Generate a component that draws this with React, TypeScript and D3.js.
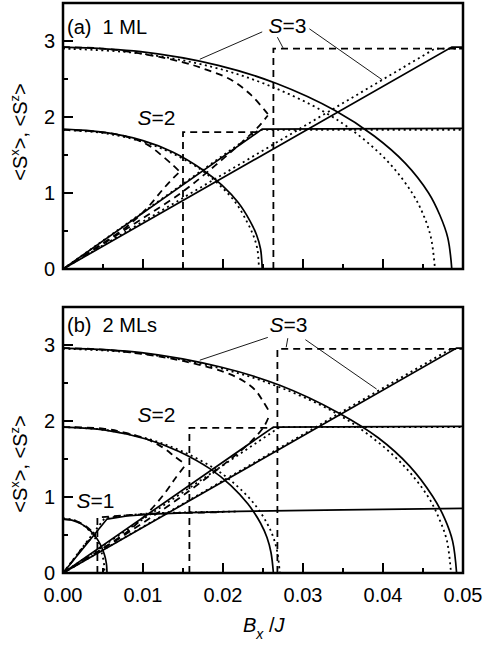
import * as d3 from 'd3';

type Pt = [number, number];

// ── Axes ─────────────────────────────────────────────────────────────
const X_DOMAIN: Pt = [0, 0.05];
const Y_DOMAIN: Pt = [0, 3.5];
const X_MAJOR = [0, 0.01, 0.02, 0.03, 0.04, 0.05];
const X_MINOR = [0.005, 0.015, 0.025, 0.035, 0.045];
const X_LABELS = ['0.00', '0.01', '0.02', '0.03', '0.04', '0.05'];
const Y_MAJOR = [0, 1, 2, 3];
const Y_MINOR = [0.5, 1.5, 2.5];
const Y_LABELS = ['0', '1', '2', '3'];

// ── (a) 1 ML ─────────────────────────────────────────────────────────
const a3SzSolid: Pt[] = [[0, 2.92], [0.0097, 2.86], [0.0194, 2.68], [0.0267, 2.44], [0.034, 2.085], [0.0389, 1.75], [0.0428, 1.39], [0.0457, 1.0], [0.0471, 0.71], [0.0481, 0.41], [0.0486, 0]];
const a3SxSolid: Pt[] = [[0, 0], [0.0486, 2.92], [0.05, 2.92]];
const a3SzDot: Pt[] = [[0, 2.9], [0.0093, 2.84], [0.0186, 2.66], [0.0256, 2.42], [0.0326, 2.07], [0.0372, 1.74], [0.0409, 1.38], [0.0437, 0.99], [0.0451, 0.7], [0.046, 0.41], [0.0465, 0]];
const a3SxDot: Pt[] = [[0, 0], [0.0465, 2.9], [0.05, 2.9]];
const a3SzDash: Pt[] = [[0, 2.92], [0.005, 2.9], [0.01, 2.83], [0.015, 2.72], [0.018, 2.62], [0.021, 2.49], [0.0235, 2.29], [0.0256, 2.04]];
const a3SxDash: Pt[] = [[0, 0], [0.005, 0.33], [0.01, 0.67], [0.015, 1.02], [0.019, 1.36], [0.0225, 1.68], [0.0245, 1.88], [0.0256, 2.02]];
const a3Jump: Pt[] = [[0.0263, 0], [0.0263, 2.9], [0.05, 2.9]];

const a2SzSolid: Pt[] = [[0, 1.84], [0.005, 1.8], [0.01, 1.69], [0.0137, 1.54], [0.0174, 1.31], [0.0199, 1.1], [0.0219, 0.874], [0.0234, 0.627], [0.0242, 0.447], [0.0247, 0.26], [0.0249, 0]];
const a2SxSolid: Pt[] = [[0, 0], [0.0249, 1.84], [0.05, 1.85]];
const a2SzDot: Pt[] = [[0, 1.83], [0.0049, 1.79], [0.0098, 1.68], [0.0135, 1.53], [0.0172, 1.31], [0.0196, 1.1], [0.0216, 0.87], [0.023, 0.62], [0.0238, 0.44], [0.0243, 0.26], [0.0245, 0]];
const a2SxDot: Pt[] = [[0, 0], [0.0245, 1.83], [0.05, 1.83]];
const a2SzDash: Pt[] = [[0, 1.83], [0.004, 1.81], [0.008, 1.74], [0.0105, 1.64], [0.0125, 1.48], [0.0138, 1.36], [0.0146, 1.28]];
const a2SxDash: Pt[] = [[0, 0], [0.004, 0.27], [0.008, 0.56], [0.0105, 0.8], [0.0125, 1.05], [0.0138, 1.2], [0.0146, 1.28]];
const a2Jump: Pt[] = [[0.015, 0], [0.015, 1.8], [0.0245, 1.8]];

// ── (b) 2 MLs ────────────────────────────────────────────────────────
const b3SzSolid: Pt[] = [[0, 2.96], [0.0098, 2.9], [0.0197, 2.71], [0.0271, 2.47], [0.0344, 2.11], [0.0394, 1.78], [0.0433, 1.41], [0.0462, 1.01], [0.0477, 0.72], [0.0487, 0.42], [0.0492, 0]];
const b3SxSolid: Pt[] = [[0, 0], [0.0492, 2.96], [0.05, 2.96]];
const b3SzDot: Pt[] = [[0, 2.95], [0.0097, 2.89], [0.0194, 2.7], [0.0267, 2.46], [0.034, 2.11], [0.0388, 1.77], [0.0427, 1.4], [0.0456, 1.01], [0.047, 0.72], [0.048, 0.42], [0.0485, 0]];
const b3SxDot: Pt[] = [[0, 0], [0.0485, 2.95], [0.05, 2.95]];
const b3SzDash: Pt[] = [[0, 2.96], [0.005, 2.94], [0.01, 2.88], [0.015, 2.79], [0.02, 2.65], [0.0225, 2.53], [0.024, 2.41], [0.025, 2.26], [0.0258, 2.12]];
const b3SxDash: Pt[] = [[0, 0], [0.005, 0.32], [0.01, 0.66], [0.015, 1.02], [0.02, 1.42], [0.0234, 1.72], [0.0252, 1.94], [0.0258, 2.08]];
const b3Jump: Pt[] = [[0.0268, 0], [0.0268, 2.95], [0.05, 2.95]];

const b2SzSolid: Pt[] = [[0, 1.92], [0.0053, 1.88], [0.0105, 1.76], [0.0145, 1.6], [0.0184, 1.37], [0.021, 1.15], [0.0231, 0.91], [0.0247, 0.655], [0.0255, 0.467], [0.026, 0.27], [0.0263, 0]];
const b2SxSolid: Pt[] = [[0, 0], [0.0263, 1.92], [0.05, 1.93]];
const b2SzDot: Pt[] = [[0, 1.92], [0.0054, 1.88], [0.0108, 1.76], [0.0149, 1.6], [0.019, 1.37], [0.0217, 1.15], [0.0239, 0.91], [0.0255, 0.655], [0.0263, 0.467], [0.0268, 0.27], [0.0271, 0]];
const b2SxDot: Pt[] = [[0, 0], [0.0271, 1.92], [0.05, 1.92]];
const b2SzDash: Pt[] = [[0, 1.92], [0.005, 1.9], [0.008, 1.84], [0.0105, 1.76], [0.0125, 1.65], [0.014, 1.53], [0.0153, 1.43]];
const b2SxDash: Pt[] = [[0, 0], [0.004, 0.26], [0.008, 0.54], [0.0105, 0.78], [0.0125, 1.02], [0.014, 1.24], [0.0153, 1.42]];
const b2Jump: Pt[] = [[0.0158, 0], [0.0158, 1.91], [0.0263, 1.91]];

const b1SzSolid: Pt[] = [[0, 0.71], [0.0011, 0.696], [0.0022, 0.651], [0.003, 0.593], [0.00385, 0.507], [0.0044, 0.426], [0.00484, 0.337], [0.00517, 0.242], [0.00534, 0.173], [0.00545, 0.1], [0.0055, 0]];
const b1SxSolid: Pt[] = [[0, 0], [0.0055, 0.71], [0.008, 0.75], [0.011, 0.775], [0.016, 0.795], [0.022, 0.81], [0.035, 0.83], [0.05, 0.85]];
const b1SzDot: Pt[] = [[0, 0.72], [0.00104, 0.706], [0.00208, 0.66], [0.00286, 0.6], [0.00364, 0.514], [0.00416, 0.432], [0.00458, 0.342], [0.00489, 0.246], [0.00504, 0.175], [0.00515, 0.1], [0.0052, 0]];
const b1SxDot: Pt[] = [[0, 0], [0.0052, 0.72], [0.008, 0.76], [0.011, 0.785], [0.016, 0.8], [0.022, 0.81]];
const b1SzDash: Pt[] = [[0, 0.71], [0.0015, 0.69], [0.0028, 0.62], [0.0036, 0.55], [0.0041, 0.5]];
const b1SxDash: Pt[] = [[0, 0], [0.0015, 0.2], [0.0028, 0.38], [0.0036, 0.46], [0.0041, 0.5]];
const b1Jump: Pt[] = [[0.0043, 0], [0.0043, 0.73], [0.008, 0.76], [0.012, 0.785], [0.02, 0.8]];

// ── Annotation leaders (data coords) ─────────────────────────────────
const aLeaders: Pt[][] = [
  [[0.0171, 2.76], [0.0249, 3.12]],
  [[0.0268, 3.05], [0.0275, 2.91]],
  [[0.0308, 3.16], [0.0399, 2.49]],
];
const bLeaders: Pt[][] = [
  [[0.0171, 2.8], [0.0256, 3.1]],
  [[0.0281, 3.09], [0.0279, 2.97]],
  [[0.0303, 3.07], [0.0392, 2.42]],
];

const FONT = '"Liberation Sans", Arial, Helvetica, sans-serif';
const LEFT = 63;
const RIGHT = 463;

type Style = 'solid' | 'dot' | 'dash';
interface Series { pts: Pt[]; style: Style; smooth: boolean }
interface Label { at: Pt; main: string; suffix: string; italic: boolean }

const DASH: Record<Style, string | undefined> = {
  solid: undefined,
  dot: '2,3.5',
  dash: '7,5',
};

const aSeries: Series[] = [
  { pts: a3SzSolid, style: 'solid', smooth: true },
  { pts: a3SxSolid, style: 'solid', smooth: false },
  { pts: a2SzSolid, style: 'solid', smooth: true },
  { pts: a2SxSolid, style: 'solid', smooth: false },
  { pts: a3SzDot, style: 'dot', smooth: true },
  { pts: a3SxDot, style: 'dot', smooth: false },
  { pts: a2SzDot, style: 'dot', smooth: true },
  { pts: a2SxDot, style: 'dot', smooth: false },
  { pts: a3SzDash, style: 'dash', smooth: true },
  { pts: a3SxDash, style: 'dash', smooth: true },
  { pts: a3Jump, style: 'dash', smooth: false },
  { pts: a2SzDash, style: 'dash', smooth: true },
  { pts: a2SxDash, style: 'dash', smooth: true },
  { pts: a2Jump, style: 'dash', smooth: false },
];

const bSeries: Series[] = [
  { pts: b3SzSolid, style: 'solid', smooth: true },
  { pts: b3SxSolid, style: 'solid', smooth: false },
  { pts: b2SzSolid, style: 'solid', smooth: true },
  { pts: b2SxSolid, style: 'solid', smooth: false },
  { pts: b1SzSolid, style: 'solid', smooth: true },
  { pts: b1SxSolid, style: 'solid', smooth: false },
  { pts: b3SzDot, style: 'dot', smooth: true },
  { pts: b3SxDot, style: 'dot', smooth: false },
  { pts: b2SzDot, style: 'dot', smooth: true },
  { pts: b2SxDot, style: 'dot', smooth: false },
  { pts: b1SzDot, style: 'dot', smooth: true },
  { pts: b1SxDot, style: 'dot', smooth: false },
  { pts: b3SzDash, style: 'dash', smooth: true },
  { pts: b3SxDash, style: 'dash', smooth: true },
  { pts: b3Jump, style: 'dash', smooth: false },
  { pts: b2SzDash, style: 'dash', smooth: true },
  { pts: b2SxDash, style: 'dash', smooth: true },
  { pts: b2Jump, style: 'dash', smooth: false },
  { pts: b1SzDash, style: 'dash', smooth: true },
  { pts: b1SxDash, style: 'dash', smooth: true },
  { pts: b1Jump, style: 'dash', smooth: false },
];

const aLabels: Label[] = [
  { at: [0.0093, 1.9], main: 'S', suffix: '=2', italic: true },
  { at: [0.0257, 3.1], main: 'S', suffix: '=3', italic: true },
];
const bLabels: Label[] = [
  { at: [0.0093, 1.99], main: 'S', suffix: '=2', italic: true },
  { at: [0.0258, 3.17], main: 'S', suffix: '=3', italic: true },
  { at: [0.0017, 0.86], main: 'S', suffix: '=1', italic: true },
];

interface PanelProps {
  yBottom: number;
  yTop: number;
  series: Series[];
  labels: Label[];
  leaders: Pt[][];
  title: string;
  titleY: number;
  yLabelY: number;
  showX: boolean;
}

function Panel({ yBottom, yTop, series, labels, leaders, title, titleY, yLabelY, showX }: PanelProps) {
  const x = d3.scaleLinear().domain(X_DOMAIN).range([LEFT, RIGHT]);
  const y = d3.scaleLinear().domain(Y_DOMAIN).range([yBottom, yTop]);
  // Centripetal Catmull-Rom keeps the quarter arcs round down to their vertical ends.
  const smooth = d3.line<Pt>().x((d) => x(d[0])).y((d) => y(d[1])).curve(d3.curveCatmullRom.alpha(0.5));
  const straight = d3.line<Pt>().x((d) => x(d[0])).y((d) => y(d[1]));

  return (
    <g fontFamily={FONT}>
      <defs>
        <clipPath id={`clip-${yTop}`}>
          <rect x={LEFT} y={yTop} width={RIGHT - LEFT} height={yBottom - yTop} />
        </clipPath>
      </defs>
      <g clipPath={`url(#clip-${yTop})`}>
        {series.map((s, i) => (
          <path
            key={i}
            d={(s.smooth ? smooth : straight)(s.pts) ?? ''}
            fill="none"
            stroke="#000"
            strokeWidth={s.style === 'solid' ? 1.7 : 1.8}
            strokeDasharray={DASH[s.style]}
          />
        ))}
      </g>
      {leaders.map((l, i) => (
        <path key={i} d={straight(l) ?? ''} stroke="#000" strokeWidth={0.9} fill="none" />
      ))}
      {labels.map((l, i) => (
        <text key={i} x={x(l.at[0])} y={y(l.at[1])} fontSize={21}>
          <tspan fontStyle={l.italic ? 'italic' : 'normal'}>{l.main}</tspan>
          {l.suffix}
        </text>
      ))}
      <text x={x(0.0005)} y={titleY} fontSize={20} style={{ whiteSpace: 'pre' }}>
        {title}
      </text>

      {/* ticks */}
      {X_MAJOR.map((t) => (
        <line key={`xM${t}`} x1={x(t)} x2={x(t)} y1={yBottom} y2={yBottom - 10} stroke="#000" strokeWidth={2} />
      ))}
      {X_MINOR.map((t) => (
        <line key={`xm${t}`} x1={x(t)} x2={x(t)} y1={yBottom} y2={yBottom - 5} stroke="#000" strokeWidth={2} />
      ))}
      {Y_MAJOR.map((t) => (
        <line key={`yM${t}`} x1={LEFT} x2={LEFT + 10} y1={y(t)} y2={y(t)} stroke="#000" strokeWidth={2} />
      ))}
      {Y_MINOR.map((t) => (
        <line key={`ym${t}`} x1={LEFT} x2={LEFT + 5} y1={y(t)} y2={y(t)} stroke="#000" strokeWidth={2} />
      ))}
      {Y_MAJOR.map((t, i) => (
        <text key={`yl${t}`} x={LEFT - 8} y={y(t) + 7} fontSize={20} textAnchor="end">
          {Y_LABELS[i]}
        </text>
      ))}
      {showX &&
        X_MAJOR.map((t, i) => (
          <text key={`xl${t}`} x={x(t)} y={yBottom + 29} fontSize={20} textAnchor="middle">
            {X_LABELS[i]}
          </text>
        ))}

      {/* frame */}
      <rect
        x={LEFT}
        y={yTop}
        width={RIGHT - LEFT}
        height={yBottom - yTop}
        fill="none"
        stroke="#000"
        strokeWidth={2.5}
      />

      {/* y axis label */}
      <text transform={`translate(27,${yLabelY}) rotate(-90)`} fontSize={20} textAnchor="middle">
        {'<S'}
        <tspan dy={-8} fontSize={13}>x</tspan>
        <tspan dy={8}>{'>, <S'}</tspan>
        <tspan dy={-8} fontSize={13}>z</tspan>
        <tspan dy={8}>{'>'}</tspan>
      </text>
    </g>
  );
}

export default function App() {
  return (
    <svg
      width={484}
      height={645}
      style={{ position: 'absolute', left: 0, top: 0, background: '#fff' }}
    >
      <rect width={484} height={645} fill="#fff" />
      <Panel
        yBottom={269}
        yTop={3}
        series={aSeries}
        labels={aLabels}
        leaders={aLeaders}
        title={'(a)  1 ML'}
        titleY={34}
        yLabelY={132}
        showX={false}
      />
      <Panel
        yBottom={573}
        yTop={307}
        series={bSeries}
        labels={bLabels}
        leaders={bLeaders}
        title={'(b)  2 MLs'}
        titleY={332}
        yLabelY={464}
        showX={true}
      />
      <text x={243} y={632} fontSize={20} fontFamily={FONT}>
        <tspan fontStyle="italic">B</tspan>
        <tspan dy={7} fontSize={14} fontStyle="italic">x</tspan>
        <tspan dy={-7}>{' /'}</tspan>
        <tspan fontStyle="italic">J</tspan>
      </text>
    </svg>
  );
}
